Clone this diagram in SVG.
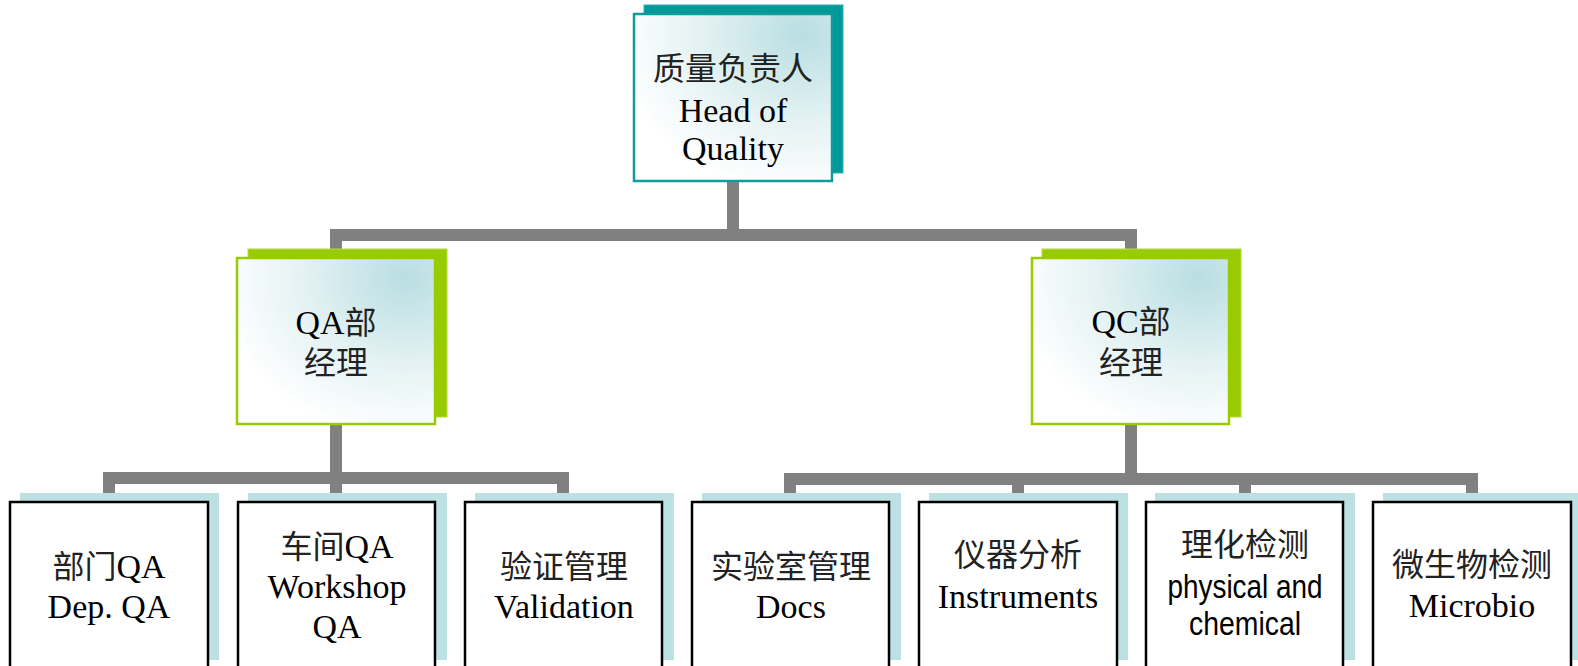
<svg xmlns="http://www.w3.org/2000/svg" width="1578" height="666" viewBox="0 0 1578 666">
<style>
.t{font-family:"Liberation Serif","Noto Sans CJK SC",serif;font-size:34px;fill:#000;text-anchor:middle}
.s{font-family:"Liberation Sans","Noto Sans CJK SC",sans-serif;font-size:34px;fill:#000;text-anchor:middle}
.c{font-family:"Noto Sans CJK SC",sans-serif;font-size:32px;fill:#222;text-anchor:middle}
.conn{fill:#808080}
.bshadow{fill:#bde0e3}
.bfront{fill:#fff;stroke:#000;stroke-width:2.5}
.gshadow{fill:#99cc00;stroke:#b5dc3a;stroke-width:1}
.gfront{fill:url(#grad);stroke:#99cc00;stroke-width:2.5}
.hshadow{fill:#009999;stroke:#30b0b0;stroke-width:1}
.hfront{fill:url(#grad);stroke:#109c9c;stroke-width:2.5}
</style>
<defs>
<radialGradient id="grad" cx="0.85" cy="0.12" r="0.95">
<stop offset="0" stop-color="#b9dee2"/>
<stop offset="0.55" stop-color="#e4f2f3"/>
<stop offset="1" stop-color="#ffffff"/>
</radialGradient>
</defs>
<rect width="1578" height="666" fill="#fff"/>
<g id="connectors">
<rect class="conn" x="727" y="181" width="12" height="50"/>
<rect class="conn" x="330" y="229" width="807" height="12"/>
<rect class="conn" x="330" y="229" width="12" height="20"/>
<rect class="conn" x="1125" y="229" width="12" height="20"/>
<rect class="conn" x="330" y="424" width="12" height="69"/>
<rect class="conn" x="103" y="472" width="466" height="12"/>
<rect class="conn" x="103" y="472" width="12" height="21"/>
<rect class="conn" x="557" y="472" width="12" height="21"/>
<rect class="conn" x="1125" y="424" width="12" height="50"/>
<rect class="conn" x="784" y="473" width="694" height="12"/>
<rect class="conn" x="784" y="473" width="12" height="21"/>
<rect class="conn" x="1012" y="473" width="12" height="21"/>
<rect class="conn" x="1239" y="473" width="12" height="21"/>
<rect class="conn" x="1466" y="473" width="12" height="21"/>
</g>
<g id="head">
<rect class="hshadow" x="644" y="5" width="199" height="168"/>
<rect class="hfront" x="634" y="14" width="198" height="167"/>
<text class="c" x="733" y="80">质量负责人</text>
<text class="t" x="733" y="122">Head of</text>
<text class="t" x="733" y="160">Quality</text>
</g>
<g id="qa-manager">
<rect class="gshadow" x="248" y="249" width="199" height="168"/>
<rect class="gfront" x="237" y="258" width="198" height="166"/>
<text class="t" x="336" y="334">QA<tspan class="c">部</tspan></text>
<text class="c" x="336" y="374">经理</text>
</g>
<g id="qc-manager">
<rect class="gshadow" x="1042" y="249" width="199" height="168"/>
<rect class="gfront" x="1032" y="258" width="197" height="166"/>
<text class="t" x="1131" y="333">QC<tspan class="c">部</tspan></text>
<text class="c" x="1131" y="374">经理</text>
</g>
<g id="dep-qa">
<rect class="bshadow" x="20" y="493" width="199" height="167"/>
<rect class="bfront" x="10" y="502" width="198" height="170"/>
<text class="t" x="109" y="578"><tspan class="c">部门</tspan>QA</text>
<text class="t" x="109" y="618">Dep. QA</text>
</g>
<g id="workshop-qa">
<rect class="bshadow" x="248" y="493" width="199" height="167"/>
<rect class="bfront" x="238" y="502" width="197" height="170"/>
<text class="t" x="337" y="558"><tspan class="c">车间</tspan>QA</text>
<text class="t" x="337" y="598">Workshop</text>
<text class="t" x="337" y="638">QA</text>
</g>
<g id="validation">
<rect class="bshadow" x="475" y="493" width="199" height="167"/>
<rect class="bfront" x="465" y="502" width="197" height="170"/>
<text class="c" x="564" y="578">验证管理</text>
<text class="t" x="564" y="618">Validation</text>
</g>
<g id="docs">
<rect class="bshadow" x="702" y="493" width="199" height="167"/>
<rect class="bfront" x="692" y="502" width="197" height="170"/>
<text class="c" x="791" y="578">实验室管理</text>
<text class="t" x="791" y="618">Docs</text>
</g>
<g id="instruments">
<rect class="bshadow" x="929" y="493" width="199" height="167"/>
<rect class="bfront" x="919" y="502" width="198" height="170"/>
<text class="c" x="1018" y="566">仪器分析</text>
<text class="t" x="1018" y="608">Instruments</text>
</g>
<g id="physchem">
<rect class="bshadow" x="1155" y="493" width="200" height="167"/>
<rect class="bfront" x="1146" y="502" width="197" height="170"/>
<text class="c" x="1245" y="556">理化检测</text>
<text class="s" x="1245" y="598" textLength="155" lengthAdjust="spacingAndGlyphs">physical and</text>
<text class="s" x="1245" y="635" textLength="112" lengthAdjust="spacingAndGlyphs">chemical</text>
</g>
<g id="microbio">
<rect class="bshadow" x="1383" y="493" width="199" height="167"/>
<rect class="bfront" x="1373" y="502" width="198" height="170"/>
<text class="c" x="1472" y="576">微生物检测</text>
<text class="t" x="1472" y="617">Microbio</text>
</g>
</svg>
